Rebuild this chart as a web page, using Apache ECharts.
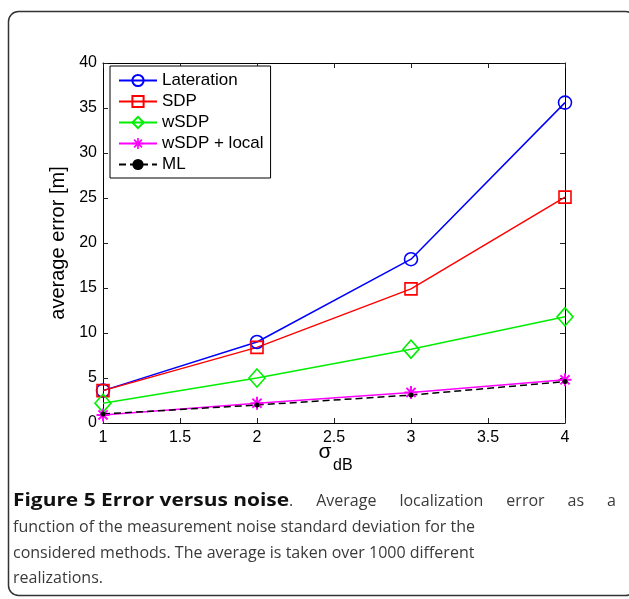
<!DOCTYPE html>
<html><head><meta charset="utf-8">
<script src="https://cdn.jsdelivr.net/npm/echarts@6/dist/echarts.min.js"></script>
<style>html,body{margin:0;padding:0;background:#fff}#c{width:629px;height:599px}</style>
</head><body><div id="c"></div>
<script>
// ---- data ----
const sigmaValues = [1, 2, 3, 4];
const lateration = [3.6, 9.0, 18.2, 35.6];
const sdp = [3.6, 8.4, 14.9, 25.1];
const wsdp = [2.2, 5.0, 8.2, 11.8];
const wsdpLocal = [0.9, 2.2, 3.4, 4.8];
const ml = [1.0, 2.0, 3.1, 4.6];
const seriesNames = ['Lateration', 'SDP', 'wSDP', 'wSDP + local', 'ML'];
const xTickStep = 0.5, yTickStep = 5;
const captionBold = 'Figure 5 Error versus noise';
const captionLine1Rest = '. Average localization error as a';
const captionLines = [
  'function of the measurement noise standard deviation for the',
  'considered methods. The average is taken over 1000 different',
  'realizations.'
];

const FF = '"Liberation Sans", Arial, Helvetica, sans-serif';
const CF = '"Open Sans", "Liberation Sans", sans-serif';
function pairs(vals) { return sigmaValues.map((x, i) => [x, vals[i]]); }

const asterisk = 'path://M-1.5,-10L1.5,-10L1.5,10L-1.5,10Z' +
  'M-10,-1.5L10,-1.5L10,1.5L-10,1.5Z' +
  'M-6.0,-8.1L8.1,6.0L6.0,8.1L-8.1,-6.0Z' +
  'M-8.1,6.0L6.0,-8.1L8.1,-6.0L-6.0,8.1Z';

function lineSeries(name, vals, color, symbol, size, extra) {
  const hollow = symbol !== asterisk && name !== 'ML';
  return Object.assign({
    name, type: 'line', data: pairs(vals),
    symbol, symbolSize: size, showSymbol: true,
    lineStyle: { color, width: 1.5 },
    itemStyle: hollow ? { color: 'rgba(0,0,0,0)', borderColor: color, borderWidth: 1.6 }
                      : { color, borderWidth: 0 },
    emphasis: { disabled: true }
  }, extra || {});
}

// ---- caption layout (measure text to fit reference widths) ----
const cv = document.createElement('canvas').getContext('2d');
function tw(txt, font) { cv.font = font; return cv.measureText(txt).width; }
const capSize = 17;
const nFont = capSize + 'px ' + CF, bFont = 'bold ' + capSize + 'px ' + CF;
const capColor = '#3a3a3a';
const capLeft = 13, capRight = 616;
const sx = 462 / tw(captionLines[0], nFont);   // horizontal squeeze to match reference width
const graphics = [];
const lineYs = [501, 527, 553, 578];
// bold part spans 13 -> 289 in the reference
const boldEnd = 289;
const sxB = (boldEnd - capLeft) / tw(captionBold, bFont);
graphics.push({ type: 'text', x: capLeft, y: lineYs[0], scaleX: sxB, style: {
  text: captionBold, font: bFont, fill: '#111', textVerticalAlign: 'middle', textAlign: 'left' } });
// rest of line 1 justified
const restWords = captionLine1Rest.replace(/^\./, '').trim().split(' ');
graphics.push({ type: 'text', x: boldEnd, y: lineYs[0], scaleX: sx, style: {
  text: '.', font: nFont, fill: capColor, textVerticalAlign: 'middle', textAlign: 'left' } });
const restStart = boldEnd + tw('.', nFont) * sx;
const ws = restWords.map(w => tw(w, nFont) * sx);
const gap = (capRight - restStart - ws.reduce((a, b) => a + b, 0)) / restWords.length;
let cx = restStart + gap;
restWords.forEach((w, i) => {
  graphics.push({ type: 'text', x: cx, y: lineYs[0], scaleX: sx, style: {
    text: w, font: nFont, fill: capColor, textVerticalAlign: 'middle', textAlign: 'left' } });
  cx += ws[i] + gap;
});
captionLines.forEach((t, i) => {
  graphics.push({ type: 'text', x: capLeft, y: lineYs[i + 1], scaleX: sx, style: {
    text: t, font: nFont, fill: capColor, textVerticalAlign: 'middle', textAlign: 'left' } });
});
// frame
graphics.push({ type: 'rect', shape: { x: 8.5, y: 11.5, width: 627, height: 584, r: 10 },
  style: { fill: 'none', stroke: '#333', lineWidth: 1.5 }, z: -1 });
// x axis name: sigma with subscript dB
graphics.push({ type: 'text', x: 325, y: 452, style: { text: 'σ', font: '21px ' + FF, fill: '#000',
  textAlign: 'center', textVerticalAlign: 'middle' } });
graphics.push({ type: 'text', x: 333, y: 466, style: { text: 'dB', font: '16px ' + FF, fill: '#000',
  textAlign: 'left', textVerticalAlign: 'middle' } });

function valueAxis(pos, min, max, step, showLabel, isX) {
  return {
    type: 'value', position: pos, min, max, interval: step,
    axisLine: { show: true, onZero: false, lineStyle: { color: '#000', width: 1 } },
    axisTick: { show: true, inside: true, length: 5, lineStyle: { color: '#222', width: 1 } },
    axisLabel: { show: showLabel, color: '#000', fontSize: 16, fontFamily: FF, margin: isX ? 7 : 6,
      showMinLabel: true, showMaxLabel: true },
    splitLine: { show: false }
  };
}

const chart = echarts.init(document.getElementById('c'), null, { renderer: 'canvas' });
const yMain = valueAxis('left', 0, 40, yTickStep, true, false);
yMain.name = 'average error [m]';
yMain.nameLocation = 'middle';
yMain.nameGap = 26;
yMain.nameTextStyle = { color: '#000', fontSize: 20, fontFamily: FF };

chart.setOption({
  animation: false,
  backgroundColor: '#fff',
  grid: { left: 103, right: 64, top: 63, bottom: 176, containLabel: false },
  xAxis: [valueAxis('bottom', 1, 4, xTickStep, true, true), valueAxis('top', 1, 4, xTickStep, false, true)],
  yAxis: [yMain, valueAxis('right', 0, 40, yTickStep, false, false)],
  legend: {
    data: seriesNames, orient: 'vertical', left: 110, top: 66,
    itemWidth: 38, itemHeight: 14, itemGap: 4,
    padding: [6, 7, 5, 8], backgroundColor: '#fff', borderColor: '#000', borderWidth: 1,
    selectedMode: false,
    textStyle: { color: '#000', fontSize: 17, fontFamily: FF }
  },
  series: [
    lineSeries('Lateration', lateration, '#0000ff', 'circle', 13),
    lineSeries('SDP', sdp, '#ff0000', 'rect', 12),
    lineSeries('wSDP', wsdp, '#00ee00', 'diamond', [16, 18]),
    lineSeries('wSDP + local', wsdpLocal, '#ff00ff', asterisk, 13),
    lineSeries('ML', ml, '#000000', 'circle', 5, { lineStyle: { color: '#000', width: 1.5, type: [7, 4] } })
  ],
  graphic: graphics
});
</script>
</body></html>
